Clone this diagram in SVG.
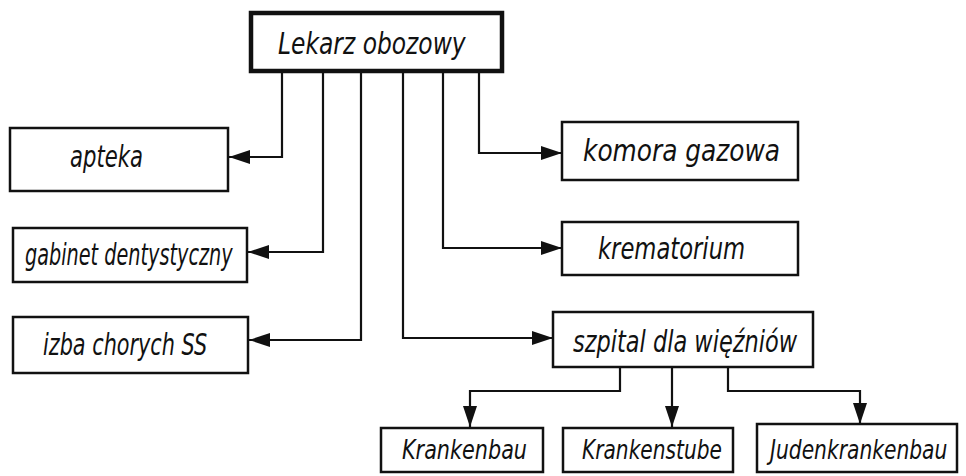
<svg xmlns="http://www.w3.org/2000/svg" width="966" height="476" viewBox="0 0 966 476">
<style>
.box{fill:#fff;stroke:#111;stroke-width:2.5}
.top{fill:#fff;stroke:#111;stroke-width:4.5}
.lbl{font-family:"DejaVu Sans","Liberation Sans",sans-serif;font-style:italic;font-size:30px;fill:#111}
.sm{font-size:27px}
.con{fill:none;stroke:#111;stroke-width:2.2}
</style>
<defs>
<marker id="ah" markerUnits="userSpaceOnUse" markerWidth="22" markerHeight="16" refX="21" refY="8" orient="auto">
<path d="M0,1 L21,8 L0,15 z" fill="#111"/>
</marker>
</defs>
<rect width="966" height="476" fill="#fff"/>
<g id="connectors">
<path class="con" marker-end="url(#ah)" d="M282,71 V157 H229"/>
<path class="con" marker-end="url(#ah)" d="M323,71 V252 H248"/>
<path class="con" marker-end="url(#ah)" d="M361,71 V340 H249"/>
<path class="con" marker-end="url(#ah)" d="M403,71 V338 H553"/>
<path class="con" marker-end="url(#ah)" d="M443,71 V248 H562"/>
<path class="con" marker-end="url(#ah)" d="M479,71 V153 H562"/>
<path class="con" marker-end="url(#ah)" d="M620,367 V391 H470 V427"/>
<path class="con" marker-end="url(#ah)" d="M672,367 V427"/>
<path class="con" marker-end="url(#ah)" d="M728,367 V391 H860 V424"/>
</g>
<g id="lekarz">
<rect class="top" x="251" y="13" width="251" height="58"/>
<text class="lbl" transform="translate(278,54) scale(0.78,1)" font-size="32">Lekarz obozowy</text>
</g>
<g id="apteka">
<rect class="box" x="10" y="128" width="218" height="63"/>
<text class="lbl" transform="translate(70,167) scale(0.706,1)">apteka</text>
</g>
<g id="gabinet">
<rect class="box" x="13" y="228" width="234" height="54"/>
<text class="lbl" transform="translate(25,265) scale(0.642,1)">gabinet dentystyczny</text>
</g>
<g id="izba">
<rect class="box" x="13" y="317" width="235" height="56"/>
<text class="lbl" transform="translate(43,355) scale(0.693,1)">izba chorych SS</text>
</g>
<g id="komora">
<rect class="box" x="562" y="122" width="236" height="58"/>
<text class="lbl" transform="translate(583,161) scale(0.828,1)">komora gazowa</text>
</g>
<g id="krematorium">
<rect class="box" x="562" y="222" width="236" height="53"/>
<text class="lbl" transform="translate(598,259) scale(0.755,1)">krematorium</text>
</g>
<g id="szpital">
<rect class="box" x="553" y="312" width="260" height="55"/>
<text class="lbl" transform="translate(573,352) scale(0.749,1)">szpital dla więźniów</text>
</g>
<g id="krankenbau">
<rect class="box" x="381" y="428" width="162" height="44"/>
<text class="lbl sm" transform="translate(402,459) scale(0.769,1)">Krankenbau</text>
</g>
<g id="krankenstube">
<rect class="box" x="563" y="428" width="170" height="44"/>
<text class="lbl sm" transform="translate(582,459) scale(0.747,1)">Krankenstube</text>
</g>
<g id="judenkrankenbau">
<rect class="box" x="757" y="424" width="200" height="48"/>
<text class="lbl sm" transform="translate(770,459) scale(0.75,1)">Judenkrankenbau</text>
</g>
</svg>
